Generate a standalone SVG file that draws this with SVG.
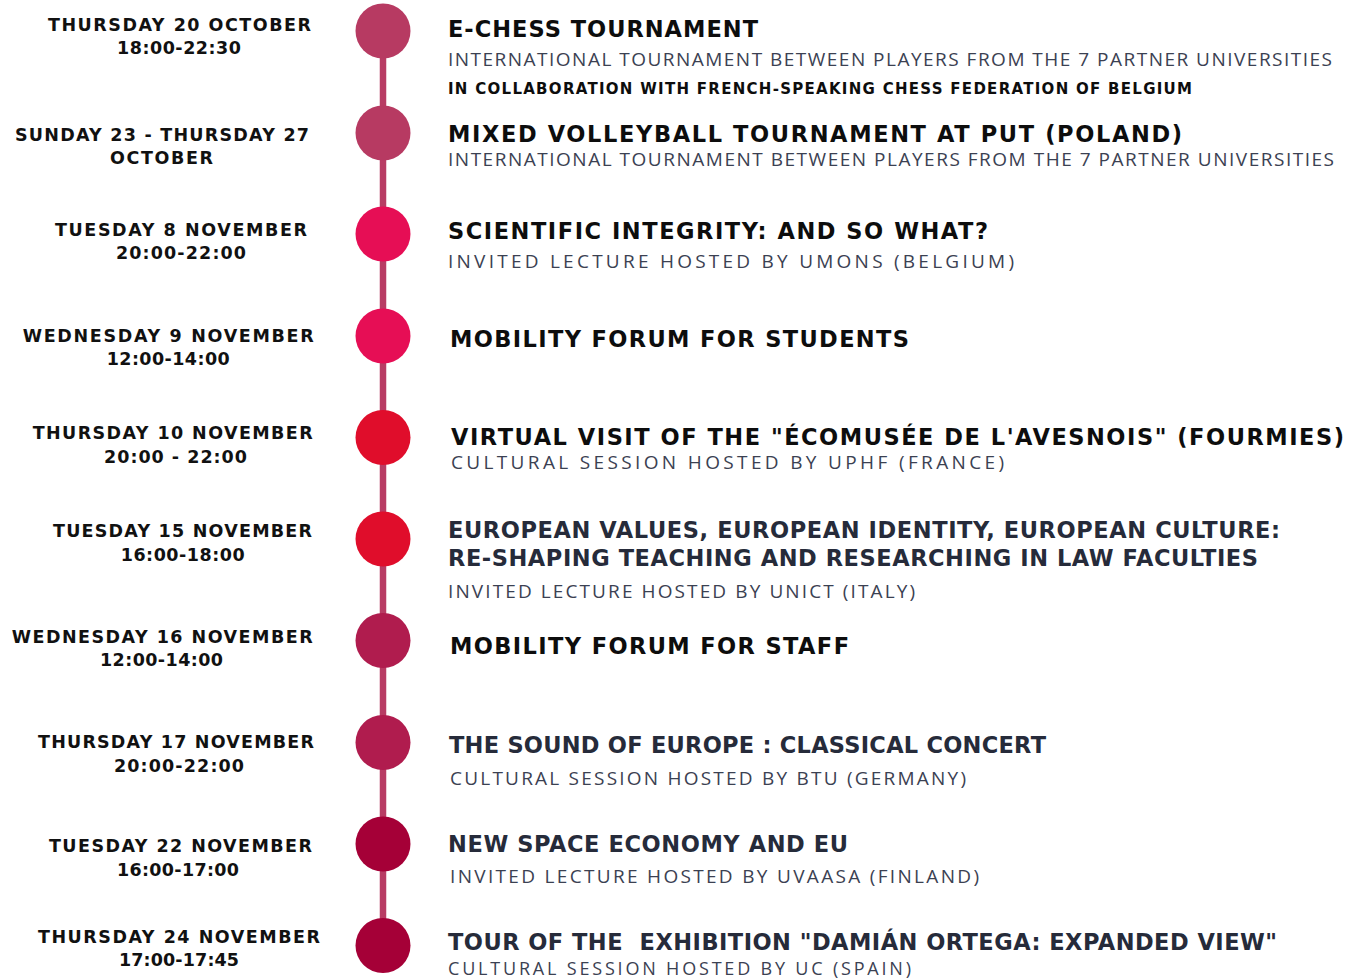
<svg xmlns="http://www.w3.org/2000/svg" width="1347" height="979" viewBox="0 0 1347 979">
<style>
.d{font-family:"DejaVu Sans","Liberation Sans",sans-serif;font-weight:bold;font-size:17.5px;fill:#111}
.t{font-family:"DejaVu Sans","Liberation Sans",sans-serif;font-weight:bold;font-size:22.5px;fill:#0d0d0d}
.tn{fill:#262b3a}
.c{font-family:"DejaVu Sans","Liberation Sans",sans-serif;font-weight:bold;font-size:15px;fill:#0d0d0d}
.s{font-family:"Open Sans","Lato",sans-serif;font-weight:400;font-size:19px;fill:#3b4152}
.k1{fill:#b73a62}.k2{fill:#e60e55}.k3{fill:#e00d2b}.k4{fill:#b01c4e}.k5{fill:#a50037}
</style>
<rect width="1347" height="979" fill="#fff"/>
<g id="connectors">
<line x1="383" y1="31" x2="383" y2="945.5" stroke="#b83c64" stroke-width="6.5"/>
</g>
<g id="e1">
<circle class="k1" cx="383" cy="31" r="27.5"/>
<text class="d" x="48" y="31" textLength="263">THURSDAY 20 OCTOBER</text>
<text class="d" x="117" y="54" textLength="124">18:00-22:30</text>
<text class="t" x="448" y="36.5" textLength="310">E-CHESS TOURNAMENT</text>
<text class="s" x="448" y="65.5" textLength="884">INTERNATIONAL TOURNAMENT BETWEEN PLAYERS FROM THE 7 PARTNER UNIVERSITIES</text>
<text class="c" x="448" y="94" textLength="744">IN COLLABORATION WITH FRENCH-SPEAKING CHESS FEDERATION OF BELGIUM</text>
</g>
<g id="e2">
<circle class="k1" cx="383" cy="133" r="27.5"/>
<text class="d" x="15" y="140.7" textLength="294">SUNDAY 23 - THURSDAY 27</text>
<text class="d" x="110" y="164" textLength="103">OCTOBER</text>
<text class="t" x="448" y="141.5" textLength="734">MIXED VOLLEYBALL TOURNAMENT AT PUT (POLAND)</text>
<text class="s" x="448" y="165.7" textLength="886">INTERNATIONAL TOURNAMENT BETWEEN PLAYERS FROM THE 7 PARTNER UNIVERSITIES</text>
</g>
<g id="e3">
<circle class="k2" cx="383" cy="234" r="27.5"/>
<text class="d" x="55" y="236" textLength="252">TUESDAY 8 NOVEMBER</text>
<text class="d" x="116" y="259" textLength="130">20:00-22:00</text>
<text class="t" x="448" y="239.3" textLength="540">SCIENTIFIC INTEGRITY: AND SO WHAT?</text>
<text class="s" x="448" y="267.5" textLength="566">INVITED LECTURE HOSTED BY UMONS (BELGIUM)</text>
</g>
<g id="e4">
<circle class="k2" cx="383" cy="336" r="27.5"/>
<text class="d" x="22.7" y="341.7" textLength="291">WEDNESDAY 9 NOVEMBER</text>
<text class="d" x="106.7" y="365" textLength="123">12:00-14:00</text>
<text class="t" x="450" y="346.7" textLength="459">MOBILITY FORUM FOR STUDENTS</text>
</g>
<g id="e5">
<circle class="k3" cx="383" cy="437.5" r="27.5"/>
<text class="d" x="32.7" y="439" textLength="280">THURSDAY 10 NOVEMBER</text>
<text class="d" x="104" y="462.7" textLength="143">20:00 - 22:00</text>
<text class="t" x="451" y="445" textLength="893">VIRTUAL VISIT OF THE "ÉCOMUSÉE DE L'AVESNOIS" (FOURMIES)</text>
<text class="s" x="451" y="469.3" textLength="553">CULTURAL SESSION HOSTED BY UPHF (FRANCE)</text>
</g>
<g id="e6">
<circle class="k3" cx="383" cy="539" r="27.5"/>
<text class="d" x="53" y="536.7" textLength="259">TUESDAY 15 NOVEMBER</text>
<text class="d" x="120.7" y="561" textLength="124">16:00-18:00</text>
<text class="t tn" x="448" y="537.5" textLength="832">EUROPEAN VALUES, EUROPEAN IDENTITY, EUROPEAN CULTURE:</text>
<text class="t tn" x="448" y="565.5" textLength="810">RE-SHAPING TEACHING AND RESEARCHING IN LAW FACULTIES</text>
<text class="s" x="448" y="598.3" textLength="467">INVITED LECTURE HOSTED BY UNICT (ITALY)</text>
</g>
<g id="e7">
<circle class="k4" cx="383" cy="640.5" r="27.5"/>
<text class="d" x="11.7" y="642.7" textLength="301">WEDNESDAY 16 NOVEMBER</text>
<text class="d" x="100" y="665.7" textLength="123">12:00-14:00</text>
<text class="t" x="450" y="654" textLength="399">MOBILITY FORUM FOR STAFF</text>
</g>
<g id="e8">
<circle class="k4" cx="383" cy="742.5" r="27.5"/>
<text class="d" x="38" y="747.7" textLength="276">THURSDAY 17 NOVEMBER</text>
<text class="d" x="114" y="771.7" textLength="130">20:00-22:00</text>
<text class="t tn" x="449" y="753.3" textLength="597">THE SOUND OF EUROPE : CLASSICAL CONCERT</text>
<text class="s" x="450" y="784.5" textLength="516">CULTURAL SESSION HOSTED BY BTU (GERMANY)</text>
</g>
<g id="e9">
<circle class="k5" cx="383" cy="844" r="27.5"/>
<text class="d" x="49" y="852.3" textLength="263">TUESDAY 22 NOVEMBER</text>
<text class="d" x="117" y="875.7" textLength="122">16:00-17:00</text>
<text class="t tn" x="448" y="852.3" textLength="400">NEW SPACE ECONOMY AND EU</text>
<text class="s" x="450" y="882.5" textLength="529">INVITED LECTURE HOSTED BY UVAASA (FINLAND)</text>
</g>
<g id="e10">
<circle class="k5" cx="383" cy="945.5" r="27.5"/>
<text class="d" x="38" y="942.7" textLength="282">THURSDAY 24 NOVEMBER</text>
<text class="d" x="119" y="965.7" textLength="120">17:00-17:45</text>
<text class="t tn" x="448" y="950" textLength="829" style="white-space:pre">TOUR OF THE  EXHIBITION "DAMIÁN ORTEGA: EXPANDED VIEW"</text>
<text class="s" x="448" y="975" textLength="463" style="font-size:18px">CULTURAL SESSION HOSTED BY UC (SPAIN)</text>
</g>
</svg>
